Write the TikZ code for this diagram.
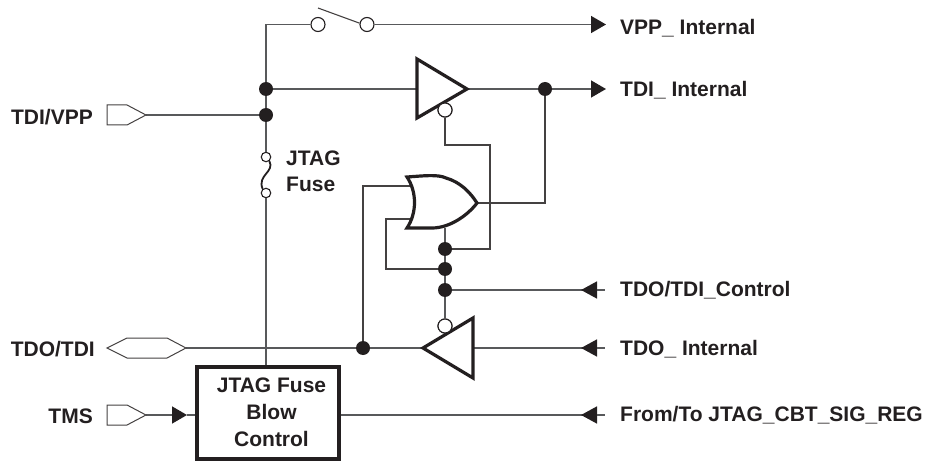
\documentclass[tikz,border=0pt]{standalone}
\usepackage{fontspec}
\setmainfont{Liberation Sans}
\usetikzlibrary{arrows.meta}
\definecolor{ink}{HTML}{231F20}
\definecolor{wire}{HTML}{58595B}
\tikzset{
	sig/.style={draw=wire, line width=1.5},
	thinsig/.style={draw=ink!85!white, line width=1.1},
	gate/.style={draw=ink, line width=3.2, line join=miter},
	port/.style={draw=ink!85!white, line width=1},
	dot/.style={circle, fill=ink, inner sep=0, minimum size=14},
	bub/.style={circle, draw=ink, fill=white, line width=1.1, inner sep=0, minimum size=14},
	pin/.style={circle, draw=ink, fill=white, line width=1.1, inner sep=0, minimum size=9.5},
	lbl/.style={font=\fontsize{21}{21}\selectfont\bfseries, text=ink, inner sep=0},
	tipR/.style={-{Triangle[length=15, width=17, color=ink]}},
	tipL/.style={-{Triangle[length=16, width=17, reversed, color=ink]}}
}
\begin{document}
\begin{tikzpicture}[x=1pt, y=-1pt]
	\useasboundingbox (0, 0) rectangle (928, 462);

	\coordinate (corner) at (266, 24.5);
	\coordinate (vppEnd) at (606, 24.5);
	\coordinate (tdiEnd) at (606, 89);
	\coordinate (ctlEnd) at (597, 290);
	\coordinate (tdoEnd) at (597, 348);
	\coordinate (regEnd) at (597, 415);
	\coordinate (ctlStub) at (605, 290);
	\coordinate (tdoStub) at (605, 348);
	\coordinate (regStub) at (605, 415);
	\coordinate (bufIn) at (417, 89);
	\coordinate (bufOut) at (467, 89);
	\coordinate (invIn) at (473, 348);
	\coordinate (invOut) at (423, 348);
	\coordinate (orOut) at (477, 203);
	\coordinate (orBot) at (445, 228);
	\coordinate (orInA) at (410, 186);
	\coordinate (orInB) at (410, 219);
	\coordinate (loopLeft) at (386, 269);
	\coordinate (feedLeft) at (445, 145);
	\coordinate (feedRight) at (490, 145);
	\coordinate (vppPort) at (146, 115);
	\coordinate (tmsPort) at (146, 415);
	\coordinate (tdoPort) at (186, 348);
	\coordinate (tmsTip) at (187, 415);

	\node[dot] (vppDot) at (266, 89) {};
	\node[dot] (padDot) at (266, 115) {};
	\node[dot] (tdiDot) at (545, 89) {};
	\node[dot] (feedDot) at (445, 249) {};
	\node[dot] (loopDot) at (445, 269) {};
	\node[dot] (ctlDot) at (445, 290) {};
	\node[dot] (tdoDot) at (363, 348) {};
	\node[pin] (fuseTop) at (266, 157) {};
	\node[pin] (fuseBot) at (266, 193) {};
	\node[bub] (swA) at (318, 24.5) {};
	\node[bub] (swB) at (367, 24.5) {};
	\node[bub] (bufBub) at (445, 110) {};
	\node[bub] (invBub) at (445, 326) {};
	\node[draw=ink, fill=white, line width=3.4, minimum width=142, minimum height=92, inner sep=0] (blow) at (268, 413) {};

	\draw[sig] (blow.north -| padDot) -- (fuseBot);
	\draw[sig] (fuseTop) -- (padDot);
	\draw[sig] (padDot) -- (vppDot);
	\draw[sig] (vppDot) -- (corner) -- (swA);
	\draw[sig, tipR] (swB) -- (vppEnd);
	\draw[sig] (vppDot) -- (bufIn);
	\draw[sig] (bufOut) -- (tdiDot);
	\draw[sig, tipR] (tdiDot) -- (tdiEnd);
	\draw[sig] (padDot) -- (vppPort);
	\draw[thinsig] (tdiDot) |- (orOut);
	\draw[thinsig] (bufBub) -- (feedLeft) -- (feedRight) |- (feedDot);
	\draw[thinsig] (tdoDot) |- (orInA);
	\draw[thinsig] (orInB) -| (loopLeft) -- (loopDot);
	\draw[sig] (orBot) -- (feedDot);
	\draw[sig] (feedDot) -- (loopDot);
	\draw[sig] (loopDot) -- (ctlDot);
	\draw[sig] (ctlDot) -- (invBub);
	\draw[sig, tipL] (ctlDot) -- (ctlEnd);
	\draw[sig] (ctlEnd) -- (ctlStub);
	\draw[sig, tipL] (invIn) -- (tdoEnd);
	\draw[sig] (tdoEnd) -- (tdoStub);
	\draw[sig] (tdoPort) -- (tdoDot);
	\draw[sig] (tdoDot) -- (invOut);
	\draw[sig, tipL] (blow.east |- regEnd) -- (regEnd);
	\draw[sig] (regEnd) -- (regStub);
	\draw[sig, tipR] (tmsPort) -- (tmsTip);
	\draw[sig] (tmsTip) -- (tmsTip -| blow.west);

	\draw[ink, line width=1.8] (fuseTop.-50) .. controls (275, 172) and (257, 175) .. (fuseBot.130);
	\draw[thinsig] (318, 8) -- (swB.170);

	\draw[gate] (bufIn |- 0, 59) -- (bufOut) -- (bufIn |- 0, 118) -- cycle;
	\draw[gate] (invIn |- 0, 318) -- (invOut) -- (invIn |- 0, 378) -- cycle;
	\draw[gate, fill=white] (407, 177) .. controls (422, 176) and (438, 174) .. (446, 178) .. controls (460, 182) and (470, 192) .. (orOut) .. controls (468, 215) and (450, 228) .. (432, 228) -- (407, 228) .. controls (417, 213) and (417, 192) .. cycle;
	\draw[bub] (bufBub) circle (7);
	\draw[bub] (invBub) circle (7);

	\draw[port] (107, 105) -- (127, 105) -- (vppPort) -- (127, 125) -- (107, 125) -- cycle;
	\draw[port] (107, 405) -- (127, 405) -- (tmsPort) -- (127, 425) -- (107, 425) -- cycle;
	\draw[port] (107, 348) -- (127, 338) -- (167, 338) -- (tdoPort) -- (167, 358) -- (127, 358) -- cycle;

	\node[lbl, anchor=east] (lblVpp) at (93, 117) {TDI/VPP};
	\node[lbl, anchor=east] (lblTdo) at (95, 349) {TDO/TDI};
	\node[lbl, anchor=east] (lblTms) at (93, 416) {TMS};
	\node[lbl, anchor=west] (lblFuseA) at (286, 158) {JTAG};
	\node[lbl, anchor=west] (lblFuseB) at (286, 184) {Fuse};
	\node[lbl, align=center] (lblBlow) at (271.5, 412.5) {JTAG Fuse\\[6pt]Blow\\[6pt]Control};
	\node[lbl, anchor=west] (lblVppInt) at (620, 28) {VPP\_ Internal};
	\node[lbl, anchor=west] (lblTdiInt) at (620, 90) {TDI\_ Internal};
	\node[lbl, anchor=west] (lblCtl) at (620, 290) {TDO/TDI\_Control};
	\node[lbl, anchor=west] (lblTdoInt) at (620, 349) {TDO\_ Internal};
	\node[lbl, anchor=west] (lblReg) at (620, 415) {From/To JTAG\_CBT\_SIG\_REG};
\end{tikzpicture}
\end{document}
